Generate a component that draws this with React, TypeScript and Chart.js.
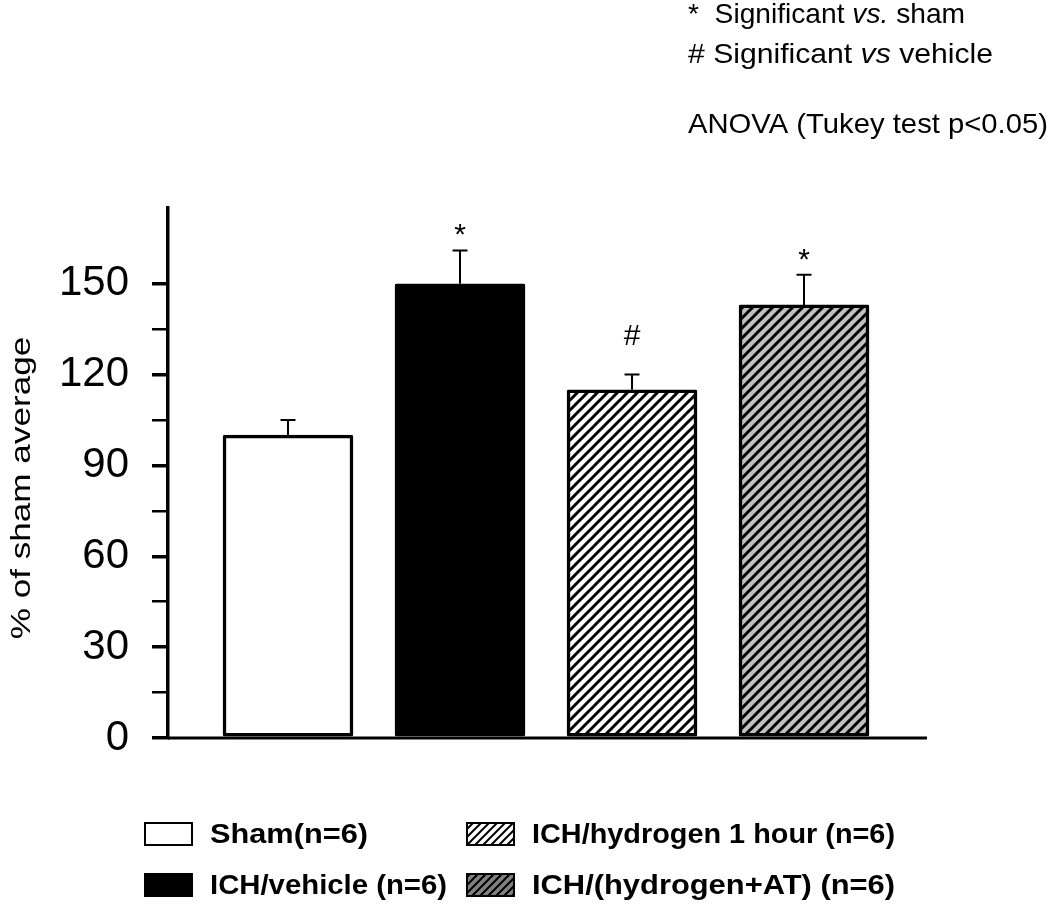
import React, { useEffect, useRef } from "react";
import { Chart, registerables } from "chart.js";

Chart.register(...registerables);

const FONT = '"Liberation Sans", Arial, Helvetica, sans-serif';

// ---- data ----
const groups = [
  "Sham(n=6)",
  "ICH/vehicle (n=6)",
  "ICH/hydrogen 1 hour (n=6)",
  "ICH/(hydrogen+AT) (n=6)",
];
const means = [100, 150, 115, 143];
const sems = [5, 11, 5, 10];
const marks = ["", "*", "#", "*"];
const yTickLabels = [0, 30, 60, 90, 120, 150];
const yMinorStep = 15;
const yMax = 175;
const yTitle = "% of sham average";
const noteLines: { t: string; italic?: boolean }[][] = [
  [{ t: "*  Significant " }, { t: "vs.", italic: true }, { t: " sham" }],
  [{ t: "# Significant " }, { t: "vs", italic: true }, { t: " vehicle" }],
  [{ t: "ANOVA (Tukey test p<0.05)" }],
];

function makeHatch(ctx: CanvasRenderingContext2D, bg: string, size = 10, lw = 3) {
  const c = document.createElement("canvas");
  c.width = size;
  c.height = size;
  const g = c.getContext("2d")!;
  g.fillStyle = bg;
  g.fillRect(0, 0, size, size);
  g.strokeStyle = "#000";
  g.lineWidth = lw;
  g.beginPath();
  g.moveTo(-size / 2, size / 2);
  g.lineTo(size / 2, -size / 2);
  g.moveTo(-1, size + 1);
  g.lineTo(size + 1, -1);
  g.moveTo(size / 2, size * 1.5);
  g.lineTo(size * 1.5, size / 2);
  g.stroke();
  return ctx.createPattern(c, "repeat")!;
}

function fitText(
  ctx: CanvasRenderingContext2D,
  parts: { t: string; italic?: boolean }[],
  x: number,
  y: number,
  width: number,
  size: number,
  bold = false
) {
  const fontOf = (p: { italic?: boolean }) =>
    `${p.italic ? "italic " : ""}${bold ? "bold " : ""}${size}px ${FONT}`;
  let total = 0;
  for (const p of parts) {
    ctx.font = fontOf(p);
    total += ctx.measureText(p.t).width;
  }
  const s = width / total;
  ctx.save();
  ctx.translate(x, y);
  ctx.scale(s, 1);
  ctx.textAlign = "left";
  ctx.textBaseline = "alphabetic";
  ctx.fillStyle = "#000";
  let cx = 0;
  for (const p of parts) {
    ctx.font = fontOf(p);
    ctx.fillText(p.t, cx, 0);
    cx += ctx.measureText(p.t).width;
  }
  ctx.restore();
}

export default function App() {
  const ref = useRef<HTMLCanvasElement | null>(null);

  useEffect(() => {
    const canvas = ref.current!;
    const ctx0 = canvas.getContext("2d")!;
    const hatchWhite = makeHatch(ctx0, "#ffffff");
    const hatchGray = makeHatch(ctx0, "#c0c0c0");
    const hatchWhiteL = makeHatch(ctx0, "#ffffff", 8, 2);
    const hatchGrayL = makeHatch(ctx0, "#808080", 8, 2);
    const barFills: any[] = ["#ffffff", "#000000", hatchWhite, hatchGray];
    const legendFills: any[] = ["#ffffff", "#000000", hatchWhiteL, hatchGrayL];

    const decor = {
      id: "decor",
      afterDatasetsDraw(chart: any) {
        const ctx: CanvasRenderingContext2D = chart.ctx;
        const ys = chart.scales.y;
        const area = chart.chartArea;
        const meta = chart.getDatasetMeta(0);
        ctx.save();
        // x axis line
        ctx.strokeStyle = "#000";
        ctx.lineWidth = 3;
        ctx.beginPath();
        ctx.moveTo(area.left, area.bottom);
        ctx.lineTo(area.right, area.bottom);
        ctx.stroke();
        // error bars + significance marks
        ctx.lineWidth = 2;
        meta.data.forEach((bar: any, i: number) => {
          const x = bar.x;
          const y0 = ys.getPixelForValue(means[i]);
          const y1 = ys.getPixelForValue(means[i] + sems[i]);
          ctx.beginPath();
          ctx.moveTo(x, y0);
          ctx.lineTo(x, y1);
          ctx.moveTo(x - 7.5, y1);
          ctx.lineTo(x + 7.5, y1);
          ctx.stroke();
          if (marks[i]) {
            ctx.font = `30px ${FONT}`;
            ctx.fillStyle = "#000";
            ctx.textAlign = "center";
            ctx.textBaseline = "alphabetic";
            const off = marks[i] === "#" ? 30 : 6;
            ctx.fillText(marks[i], x, y1 - off);
          }
        });
        ctx.restore();
      },
      afterDraw(chart: any) {
        const ctx: CanvasRenderingContext2D = chart.ctx;
        ctx.save();
        // y title
        ctx.translate(22, 488);
        ctx.rotate(-Math.PI / 2);
        ctx.scale(1.35, 1.05);
        ctx.font = `26px ${FONT}`;
        ctx.fillStyle = "#000";
        ctx.textAlign = "center";
        ctx.textBaseline = "middle";
        ctx.fillText(yTitle, 0, 0);
        ctx.restore();

        // notes top right
        const noteW = [277, 305, 360];
        const noteY = [23, 63, 133];
        noteLines.forEach((parts, k) => fitText(ctx, parts, 688, noteY[k], noteW[k], 28));

        // legend (2 x 2 grid)
        const cells = [
          { i: 0, col: 0, row: 0 },
          { i: 2, col: 1, row: 0 },
          { i: 1, col: 0, row: 1 },
          { i: 3, col: 1, row: 1 },
        ];
        const colX = [145, 467];
        const rowY = [823, 874];
        const textW = [158, 237, 363, 363];
        cells.forEach(({ i, col, row }) => {
          const bx = colX[col];
          const by = rowY[row];
          ctx.save();
          ctx.fillStyle = legendFills[i];
          ctx.fillRect(bx, by, 47, 22);
          ctx.strokeStyle = "#000";
          ctx.lineWidth = 2;
          ctx.strokeRect(bx, by, 47, 22);
          ctx.restore();
          fitText(ctx, [{ t: groups[i] }], bx + 65, by + 19.5, textW[i], 27, true);
        });
      },
    };

    const chart = new Chart(canvas, {
      type: "bar",
      data: {
        datasets: [
          {
            label: "% of sham average",
            data: means.map((v, i) => ({ x: i, y: v })),
            backgroundColor: barFills,
            borderColor: "#000",
            borderWidth: 3.5,
            borderSkipped: false,
            borderRadius: 2,
            barThickness: 130,
          } as any,
        ],
      },
      options: {
        responsive: false,
        animation: false,
        devicePixelRatio: 1,
        layout: { padding: { top: 208, right: 123, bottom: 172, left: 0 } },
        plugins: { legend: { display: false }, tooltip: { enabled: false } },
        scales: {
          x: {
            type: "linear",
            min: -0.6977,
            max: 3.715,
            offset: false,
            display: false,
          },
          y: {
            min: 0,
            max: yMax,
            afterBuildTicks: (s: any) => {
              s.ticks = s.ticks.filter((t: any) => t.value % yMinorStep === 0);
            },
            afterFit: (s: any) => {
              s.width = 168;
            },
            ticks: {
              stepSize: yMinorStep,
              autoSkip: false,
              padding: 23,
              color: "#000",
              font: { family: FONT, size: 42 },
              callback: (v: any) => (yTickLabels.includes(Number(v)) ? String(v) : ""),
            },
            grid: {
              drawOnChartArea: false,
              drawTicks: true,
              tickLength: 16,
              color: "#000",
              lineWidth: (c: any) => (c.tick && yTickLabels.includes(c.tick.value) ? 3.5 : 2.5),
            },
            border: { display: true, width: 3.5, color: "#000" },
          },
        },
      } as any,
      plugins: [decor],
    });
    return () => chart.destroy();
  }, []);

  return (
    <div style={{ position: "absolute", left: 0, top: 0, width: 1050, height: 910, background: "#fff" }}>
      <canvas ref={ref} width={1050} height={910} style={{ display: "block" }} />
    </div>
  );
}
